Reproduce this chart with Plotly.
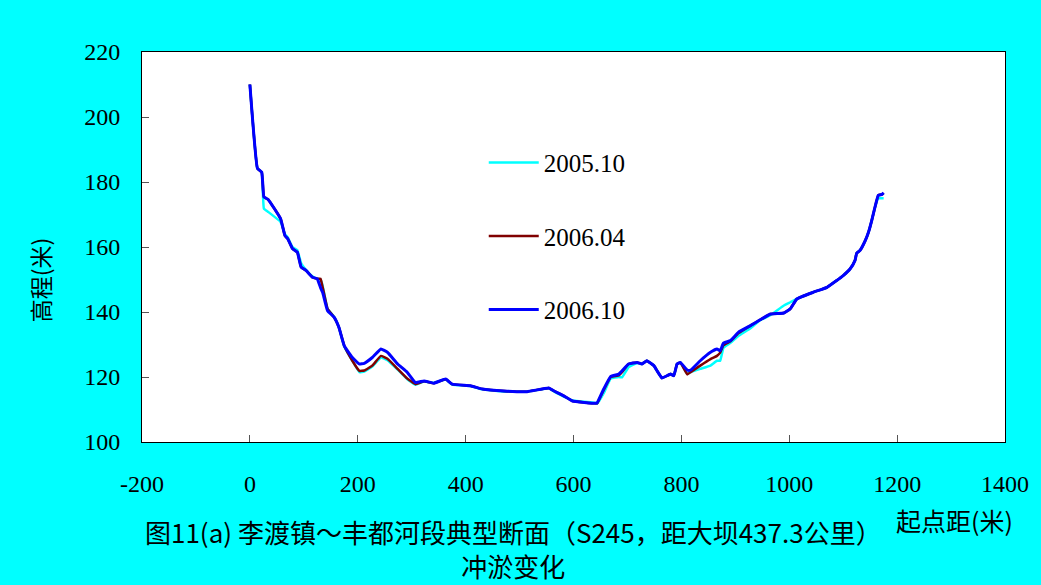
import plotly.graph_objects as go

distance = [0, 14, 22, 26, 34, 57, 65, 70, 79, 88, 95, 104, 116, 125, 131, 135, 144, 156, 165, 175,
            190, 203, 212, 227, 243, 255, 274, 292, 307, 323, 341, 363, 375, 409, 431, 471, 514, 554,
            564, 582, 598, 641, 644, 656, 669, 684, 690, 702, 718, 727, 736, 749, 755, 764, 780, 786,
            792, 798, 811, 817, 835, 854, 866, 872, 878, 891, 906, 928, 946, 965, 990, 1002, 1014,
            1045, 1070, 1088, 1100, 1113, 1122, 1125, 1131, 1141, 1147, 1153, 1159, 1165, 1172, 1175]

elev_2006_10 = [210, 184.2, 183, 175.4, 174.6, 168.7, 163.5, 162.6, 159.5, 158.4, 153.8, 152.8, 150.7,
                150.2, 147.5, 146, 140.4, 138.4, 135.3, 129.6, 126, 124, 124.2, 126, 128.6, 127.6, 124,
                121.4, 118.3, 118.8, 118.1, 119.4, 117.8, 117.3, 116.3, 115.7, 115.5, 116.6, 115.7,
                114.2, 112.6, 111.9, 112.1, 116.3, 120.2, 120.9, 121.9, 124, 124.5, 124, 125, 123.5,
                121.9, 119.7, 120.9, 120.4, 124, 124.5, 122.1, 122.1, 125, 127.6, 128.6, 128.1, 130.4,
                131.2, 133.8, 135.8, 137.6, 139.4, 139.7, 141, 144, 146.1, 147.6, 149.7, 151.2, 153.3,
                155.9, 158.1, 158.9, 162, 164.6, 168.2, 172.3, 175.9, 176.2, 176.7]

elev_2006_04 = [210, 184.2, 183, 175.4, 174.6, 168.7, 163.5, 162.6, 159.5, 158.4, 153.8, 152.8, 150.7,
                150.2, 150.2, 147.6, 141, 138.4, 135.3, 129.6, 125, 121.9, 122, 123.5, 126.5, 125.6,
                122.5, 119.5, 117.8, 118.7, 118.1, 119.3, 117.8, 117.3, 116.3, 115.7, 115.5, 116.6,
                115.7, 114.2, 112.6, 111.9, 111.9, 116.0, 120.0, 120.5, 121.5, 124, 124.5, 124, 125,
                123.5, 121.9, 119.7, 120.9, 120.4, 124, 124.5, 120.8, 121.5, 123.5, 125.5, 126.5, 127.5,
                129.8, 131, 133.5, 135.8, 137.6, 139.4, 139.7, 141, 144, 146.1, 147.6, 149.7, 151.2,
                153.3, 155.9, 158.1, 158.9, 162, 164.6, 168.2, 172.3, 175.9, 176.2, 176.5]

elev_2005_10 = [210, 184.2, 183, 171.8, 170.8, 167.7, 164, 163, 160, 159, 155, 153, 151, 150.2, 150,
                148, 141, 138.6, 135.3, 129.4, 125, 121.5, 121.7, 123.2, 126, 125.2, 122.3, 119.3,
                117.6, 118.6, 118.2, 119.2, 117.7, 117.2, 116.2, 115.5, 115.5, 116.5, 115.5, 114,
                112.8, 112, 111.8, 115, 119.5, 120, 119.9, 123, 124.3, 124, 125, 123.5, 121.9, 119.7,
                120.9, 120.4, 124, 124.5, 121, 121.5, 122.5, 123.5, 125, 125, 129, 130.5, 132.7, 135,
                137.5, 139, 142, 143, 144, 146.1, 147.6, 149.7, 151.2, 153.3, 155.9, 158.1, 158.9,
                162, 164.6, 168.2, 172.3, 175, 175, 175]

series = [("2005.10", elev_2005_10, "#00FFFF", 2.5),
          ("2006.04", elev_2006_04, "#800000", 2.5),
          ("2006.10", elev_2006_10, "#0000FF", 3)]

x_ticks = [-200, 0, 200, 400, 600, 800, 1000, 1200, 1400]
x_tick_labels = ["-200", "0", "200", "400", "600", "800", "1000", "1200", "1400"]
y_ticks = [100, 120, 140, 160, 180, 200, 220]

fig = go.Figure()
for i, (name, ys, color, w) in enumerate(series):
    fig.add_trace(go.Scatter(x=distance, y=ys, mode="lines", name=name,
                             legendgroup=f"g{i}",
                             line=dict(color=color, width=w, shape="spline", smoothing=0.3)))

serif = "Liberation Serif, Times New Roman, serif"
cjk = "Noto Sans CJK SC"

fig.update_layout(
    width=1041, height=585,
    paper_bgcolor="#00FFFF", plot_bgcolor="white",
    margin=dict(l=142, r=36, t=52, b=143),
    showlegend=True,
    legend=dict(x=0.396, y=0.775, xanchor="left", yanchor="top",
                bgcolor="rgba(0,0,0,0)", font=dict(family=serif, size=25, color="black"),
                traceorder="grouped", tracegroupgap=38, itemwidth=50),
    xaxis=dict(range=[-200, 1400], tickvals=x_ticks, ticktext=x_tick_labels,
               showgrid=False, zeroline=False,
               showline=True, linecolor="black", linewidth=1, mirror=True,
               ticks="inside", ticklen=7, tickcolor="#555555", ticklabelstandoff=20,
               tickfont=dict(family=serif, size=24, color="black")),
    yaxis=dict(range=[100, 220], tickvals=y_ticks, showgrid=False, zeroline=False,
               showline=True, linecolor="black", linewidth=1, mirror=True,
               ticks="inside", ticklen=7, tickcolor="#555555", ticklabelstandoff=16,
               tickfont=dict(family=serif, size=24, color="black")),
    annotations=[
        dict(text="高程(米)", xref="paper", yref="paper", x=-0.118, y=0.415, showarrow=False,
             textangle=-90, font=dict(family=cjk, size=23, color="black"),
             xanchor="center", yanchor="middle"),
        dict(text="起点距(米)", xref="paper", yref="paper", x=1.012, y=-0.2, showarrow=False,
             font=dict(family=cjk, size=25, color="black"), xanchor="right", yanchor="middle"),
        dict(text="图11(a) 李渡镇～丰都河段典型断面（S245，距大坝437.3公里）<br>冲淤变化",
             xref="paper", yref="paper", x=0.431, y=-0.272, showarrow=False, align="center",
             font=dict(family=cjk, size=26, color="black"), xanchor="center", yanchor="middle"),
    ],
)

fig.write_html("out.html", config={"displayModeBar": False},
               post_script="document.body.style.margin='0px';")
